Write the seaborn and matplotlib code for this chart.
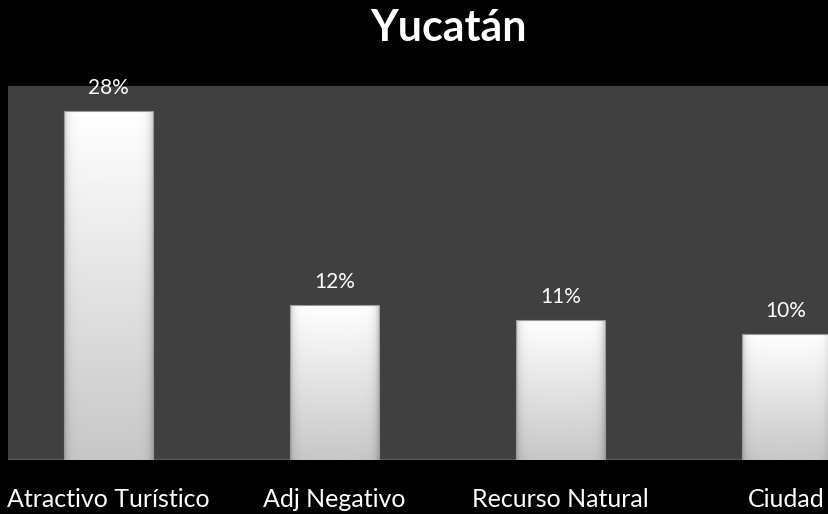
import numpy as np
import pandas as pd
import matplotlib
matplotlib.use("Agg")
import matplotlib.pyplot as plt
import seaborn as sns

categories = ["Atractivo Turístico", "Adj Negativo", "Recurso Natural", "Ciudad"]
values = [27.7, 12.3, 11.1, 10.0]
labels = ["28%", "12%", "11%", "10%"]
title = "Yucatán"

sns.set_style("dark")
plt.rcParams["font.family"] = ["Lato", "DejaVu Sans"]

df = pd.DataFrame({"cat": categories, "val": values})

fig = plt.figure(figsize=(8.29, 5.14), dpi=100, facecolor="black")
ax = fig.add_axes([8 / 829, 54 / 514, 1 - 8 / 829, (460 - 86) / 514])
ax.set_facecolor("#404040")

sns.barplot(data=df, x="cat", y="val", ax=ax, color="white", width=0.394,
            saturation=1)

ax.set_xlim(-0.445, 3.19)
ax.set_ylim(0, 29.7)

# gradient fill for bars
ny, nx = 200, 60
yy = np.linspace(1, 0, ny)[:, None]
xx = np.linspace(0, 1, nx)[None, :]
base = 0.78 + 0.22 * yy
edge = np.minimum(xx, 1 - xx)
shade = np.clip(1 - np.exp(-edge / 0.04) * 0.18, 0, 1)
img = base * shade
img = np.clip(img, 0, 1)
for p in ax.patches:
    x0, y0 = p.get_x(), p.get_y()
    w, h = p.get_width(), p.get_height()
    im = ax.imshow(img, cmap="gray", vmin=0, vmax=1, aspect="auto",
                   extent=(x0, x0 + w, y0, y0 + h), zorder=3)
    im.set_clip_path(p)
    p.set_edgecolor("#9a9a9a")
    p.set_linewidth(0.8)
    p.set_zorder(4)
    p.set_facecolor("none")

for i, (v, lab) in enumerate(zip(values, labels)):
    ax.annotate(lab, xy=(i, v), xytext=(0, 16.5), textcoords="offset points",
                ha="center", va="center", color="white", fontsize=15,
                annotation_clip=False, zorder=5)

ax.set_xlabel("")
ax.set_ylabel("")
ax.set_yticks([])
ax.tick_params(axis="x", length=0, pad=20, labelsize=18, labelcolor="white")
for s in ax.spines.values():
    s.set_visible(False)
ax.axhline(0, color="#5a5a5a", lw=1.5, zorder=2)
ax.grid(False)

fig.text(449 / 829, 1 - 28 / 514, title, ha="center", va="center",
         color="white", fontsize=31, fontweight="bold")

fig.savefig("out.png", dpi=100, facecolor="black")
